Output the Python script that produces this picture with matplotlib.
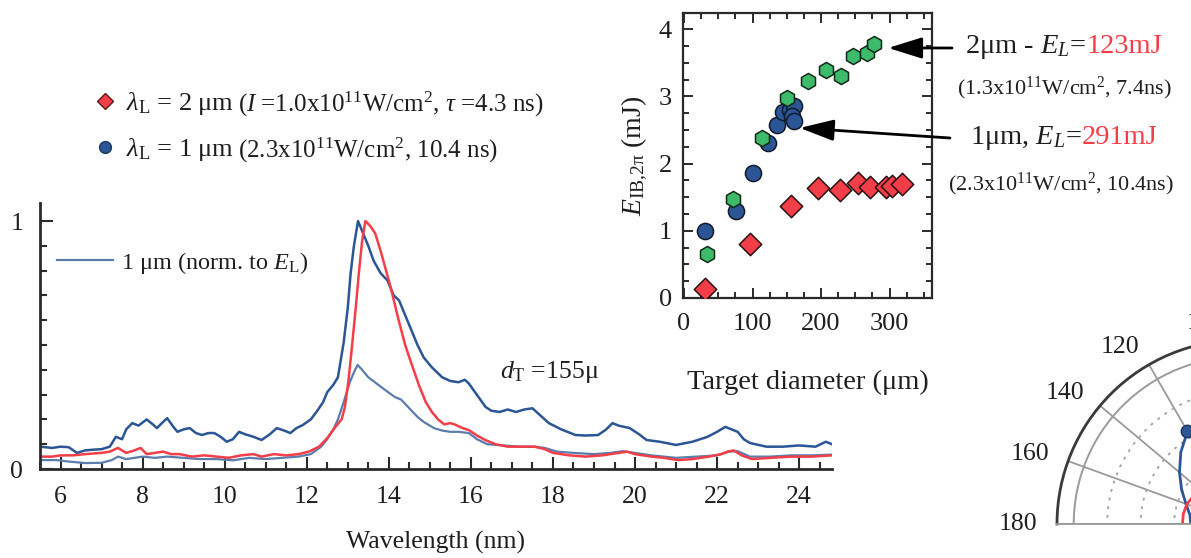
import numpy as np
import matplotlib
matplotlib.use("Agg")
import matplotlib.pyplot as plt
from matplotlib.ticker import MultipleLocator, FixedLocator
from matplotlib.lines import Line2D
from matplotlib.offsetbox import TextArea, HPacker, AnnotationBbox

plt.rcParams['font.family'] = ['Liberation Serif', 'DejaVu Serif']
plt.rcParams['mathtext.fontset'] = 'custom'
plt.rcParams['mathtext.rm'] = 'Liberation Serif'
plt.rcParams['mathtext.it'] = 'Liberation Serif:italic'
plt.rcParams['mathtext.bf'] = 'Liberation Serif:bold'

DARK = '#2b5594'
LIGHT = '#5b7dab'
RED = '#f23e48'
GREEN = '#3dba6a'
INK = '#1e1e1e'

# --- EUV spectra (wavelength nm, normalised intensity) ---
wl_dark = [5.5, 5.8, 6.0, 6.2, 6.4, 6.6, 6.8, 7.0, 7.2, 7.35, 7.5, 7.6, 7.75, 7.9,
           8.1, 8.25, 8.35, 8.5, 8.6, 8.75, 8.85, 9.0, 9.15, 9.3, 9.45, 9.6, 9.75,
           9.9, 10.05, 10.2, 10.35, 10.5, 10.7, 10.9, 11.1, 11.27, 11.45, 11.6,
           11.75, 11.9, 12.1, 12.27, 12.4, 12.5, 12.65, 12.76, 12.9, 13.0, 13.07,
           13.15, 13.25, 13.4, 13.5, 13.63, 13.8, 13.97, 14.12, 14.25, 14.4, 14.55,
           14.7, 14.85, 15.05, 15.3, 15.5, 15.7, 15.85, 15.95, 16.1, 16.36, 16.5,
           16.7, 16.9, 17.1, 17.3, 17.5, 17.7, 17.9, 18.2, 18.55, 18.8, 19.1, 19.3,
           19.45, 19.6, 19.87, 20.1, 20.28, 20.6, 21.0, 21.4, 21.77, 22.0, 22.2,
           22.35, 22.5, 22.65, 22.8, 23.2, 23.6, 24.0, 24.4, 24.65, 24.8]
int_dark = [0.09, 0.085, 0.09, 0.088, 0.065, 0.075, 0.078, 0.08, 0.09, 0.13, 0.12,
            0.16, 0.185, 0.175, 0.2, 0.18, 0.165, 0.19, 0.205, 0.17, 0.15, 0.16,
            0.165, 0.145, 0.137, 0.145, 0.145, 0.13, 0.11, 0.12, 0.15, 0.14, 0.13,
            0.117, 0.14, 0.165, 0.155, 0.145, 0.165, 0.177, 0.2, 0.238, 0.27, 0.31,
            0.34, 0.37, 0.51, 0.65, 0.79, 0.9, 1.0, 0.94, 0.9, 0.84, 0.79, 0.76,
            0.7, 0.68, 0.62, 0.56, 0.5, 0.45, 0.41, 0.37, 0.355, 0.35, 0.36, 0.345,
            0.31, 0.25, 0.235, 0.23, 0.24, 0.23, 0.24, 0.245, 0.215, 0.185, 0.16,
            0.137, 0.135, 0.137, 0.16, 0.185, 0.175, 0.165, 0.14, 0.117, 0.11,
            0.097, 0.11, 0.13, 0.15, 0.17, 0.16, 0.15, 0.12, 0.105, 0.09, 0.09,
            0.095, 0.09, 0.11, 0.1]

wl_red = [5.5, 5.8, 6.0, 6.3, 6.6, 7.0, 7.2, 7.4, 7.6, 7.8, 7.95, 8.1, 8.3, 8.5,
          8.7, 8.9, 9.2, 9.5, 9.8, 10.1, 10.4, 10.7, 10.9, 11.2, 11.5, 11.8, 12.05,
          12.3, 12.5, 12.7, 12.85, 12.93, 13.02, 13.1, 13.2, 13.27, 13.35, 13.43,
          13.55, 13.67, 13.8, 13.9, 14.05, 14.24, 14.4, 14.5, 14.73, 14.9, 15.05,
          15.2, 15.35, 15.5, 15.6, 15.8, 15.95, 16.15, 16.35, 16.6, 16.9, 17.2,
          17.55, 17.8, 18.0, 18.4, 18.8, 19.2, 19.6, 19.8, 20.0, 20.4, 20.7, 21.05,
          21.4, 21.8, 22.1, 22.25, 22.4, 22.6, 22.85, 23.3, 23.8, 24.3, 24.8]
int_red = [0.05, 0.05, 0.055, 0.055, 0.06, 0.065, 0.07, 0.085, 0.065, 0.075, 0.085,
           0.06, 0.065, 0.07, 0.06, 0.06, 0.05, 0.055, 0.05, 0.045, 0.055, 0.06,
           0.05, 0.06, 0.055, 0.06, 0.07, 0.09, 0.125, 0.17, 0.2, 0.25, 0.36, 0.49,
           0.66, 0.79, 0.92, 1.0, 0.98, 0.95, 0.88, 0.82, 0.73, 0.6, 0.5, 0.45,
           0.34, 0.27, 0.23, 0.2, 0.18, 0.185, 0.18, 0.165, 0.157, 0.135, 0.117,
           0.1, 0.09, 0.09, 0.09, 0.08, 0.065, 0.055, 0.05, 0.055, 0.065, 0.07,
           0.06, 0.05, 0.045, 0.036, 0.04, 0.05, 0.06, 0.07, 0.075, 0.055, 0.04,
           0.045, 0.05, 0.05, 0.055]

wl_light = [5.5, 5.9, 6.2, 6.6, 7.0, 7.25, 7.4, 7.6, 7.8, 8.0, 8.3, 8.6, 9.0, 9.4,
            9.8, 10.2, 10.6, 11.0, 11.4, 11.8, 12.1, 12.35, 12.5, 12.65, 12.76,
            12.9, 13.05, 13.15, 13.24, 13.35, 13.5, 13.7, 13.9, 14.15, 14.3, 14.5,
            14.7, 14.85, 15.1, 15.3, 15.5, 15.7, 15.95, 16.15, 16.4, 16.8, 17.2,
            17.55, 17.8, 18.1, 18.5, 19.0, 19.4, 19.7, 20.0, 20.4, 21.0, 21.5, 22.0,
            22.3, 22.5, 22.8, 23.3, 23.8, 24.3, 24.8]
int_light = [0.036, 0.036, 0.03, 0.024, 0.025, 0.036, 0.05, 0.04, 0.045, 0.05,
             0.045, 0.05, 0.045, 0.04, 0.04, 0.035, 0.045, 0.04, 0.045, 0.05, 0.06,
             0.09, 0.12, 0.16, 0.2, 0.27, 0.35, 0.39, 0.42, 0.4, 0.37, 0.345, 0.32,
             0.29, 0.28, 0.245, 0.21, 0.19, 0.165, 0.155, 0.15, 0.15, 0.145, 0.12,
             0.1, 0.095, 0.09, 0.09, 0.085, 0.07, 0.065, 0.06, 0.065, 0.072, 0.065,
             0.055, 0.045, 0.05, 0.055, 0.07, 0.072, 0.05, 0.05, 0.055, 0.055, 0.058]

# --- inset: conversion energy vs target diameter ---
d_1um = [30, 76, 100, 123, 136, 145, 155, 160, 158, 160]
e_1um = [1.0, 1.29, 1.86, 2.31, 2.57, 2.76, 2.80, 2.86, 2.71, 2.64]
d_2um_a = [34, 71, 114, 151, 181, 207, 229, 247, 267, 277]
e_2um_a = [0.66, 1.47, 2.38, 2.98, 3.23, 3.39, 3.30, 3.60, 3.64, 3.78]
d_2um_b = [31, 96, 156, 195, 228, 254, 272, 295, 303, 318]
e_2um_b = [0.14, 0.80, 1.37, 1.63, 1.60, 1.71, 1.65, 1.65, 1.67, 1.69]

# --- angular distribution (deg, normalised) ---
ang_1um = [90, 100, 110, 120, 130, 140, 150, 160, 170, 180]
rad_1um = [0.76, 0.73, 0.69, 0.64, 0.56, 0.48, 0.41, 0.35, 0.31, 0.30]
ang_1um_pts = [120]
rad_1um_pts = [0.64]
ang_2um = [140, 150, 160, 170, 180]
rad_2um = [0.30, 0.33, 0.345, 0.35, 0.35]
polar_ticks = [0, 20, 40, 60, 80, 100, 120, 140, 160, 180]

W, H = 1191, 558
fig = plt.figure(figsize=(W / 100, H / 100), dpi=100)


def box(x0, y0, x1, y1):
    # pixel box measured from the top-left corner -> figure fraction
    return [x0 / W, 1 - y1 / H, (x1 - x0) / W, (y1 - y0) / H]


# ---------------- spectrum ----------------
ax = fig.add_axes(box(40, 203, 832, 469))
ax.plot(wl_light, int_light, color=LIGHT, lw=1.6, label=r'1 μm (norm. to $E_\mathrm{L}$)')
ax.plot(wl_dark, int_dark, color=DARK, lw=1.8)
ax.plot(wl_red, int_red, color=RED, lw=1.8)
ax.set_xlim(5.5, 24.8)
ax.set_ylim(0, 1.073)
for s in ['top', 'right']:
    ax.spines[s].set_visible(False)
for s in ['left', 'bottom']:
    ax.spines[s].set_linewidth(2)
    ax.spines[s].set_color('#2a2a2a')
ax.xaxis.set_major_locator(MultipleLocator(2))
ax.xaxis.set_minor_locator(MultipleLocator(0.5))
ax.yaxis.set_major_locator(FixedLocator([0, 1]))
ax.yaxis.set_minor_locator(MultipleLocator(0.1))
ax.tick_params(which='both', direction='in', color='#2a2a2a', width=1.5,
               labelsize=18.5, labelcolor=INK)
ax.tick_params(which='major', length=9)
ax.tick_params(which='minor', length=5)
ax.tick_params(axis='x', pad=12)
ax.tick_params(axis='y', pad=12)
ax.set_xlabel('Wavelength (nm)', fontsize=18.5, color=INK, labelpad=17)
ax.text(16.72, 0.39, r'$d_\mathrm{T}$ =155μ', fontsize=18.5, color=INK,
        ha='left', va='center')
ax.legend(loc='upper left', bbox_to_anchor=(17 / 792, (469 - 250) / 266),
          frameon=False, fontsize=17.5, handlelength=2.3, handletextpad=0.35,
          borderpad=0, borderaxespad=0, labelcolor=INK)

# legend for laser wavelength (top left)
h_red = Line2D([], [], ls='none', marker='D', ms=8, mfc=RED, mec='#5a1a1a', mew=1)
h_blue = Line2D([], [], ls='none', marker='o', ms=8.5, mfc=DARK, mec='#1d3560', mew=1)
leg = fig.legend([h_red, h_blue],
                 [r'$\lambda_\mathrm{L}$ = 2 μm', r'$\lambda_\mathrm{L}$ = 1 μm'],
                 loc='upper left', bbox_to_anchor=(94 / W, 1 - 90 / H),
                 frameon=False, fontsize=19, handlelength=0.8, handletextpad=0.4,
                 labelspacing=0.72, borderpad=0, borderaxespad=0, labelcolor=INK)
extra = [r'($I$ =1.0x10$^{11}$W/cm$^2$, $\tau$ =4.3 ns)',
         r'(2.3x10$^{11}$W/cm$^2$, 10.4 ns)']
for t, s in zip(leg.get_texts(), extra):
    fig.add_artist(plt.Annotation(s, xy=(1, 0.0), xycoords=t, xytext=(3, -1.5),
                                  textcoords='offset points', fontsize=18,
                                  color=INK, ha='left', va='bottom', zorder=10))

# ---------------- inset ----------------
iax = fig.add_axes(box(683, 13, 932, 298))
iax.scatter(d_2um_b, e_2um_b, s=130, marker='D', c=RED, edgecolors='#2a1010',
            linewidths=1.1, zorder=3)
iax.scatter(d_1um, e_1um, s=135, marker='o', c=DARK, edgecolors='#111a2a',
            linewidths=1.1, zorder=3)
iax.scatter(d_2um_a, e_2um_a, s=135, marker='h', c=GREEN, edgecolors='#112a18',
            linewidths=1.1, zorder=4)
iax.set_xlim(-1.5, 362)
iax.set_ylim(0, 4.24)
for s in iax.spines.values():
    s.set_linewidth(1.6)
    s.set_color('#2a2a2a')
iax.xaxis.set_major_locator(MultipleLocator(100))
iax.xaxis.set_minor_locator(MultipleLocator(25))
iax.yaxis.set_major_locator(MultipleLocator(1))
iax.yaxis.set_minor_locator(MultipleLocator(0.25))
iax.tick_params(which='both', direction='in', top=True, right=True,
                color='#2a2a2a', width=1.4, labelsize=19, labelcolor=INK)
iax.tick_params(which='major', length=7, pad=8)
iax.tick_params(axis='x', which='major', pad=11)
iax.tick_params(which='minor', length=4)
iax.set_xlabel('Target diameter (μm)', fontsize=20.5, color=INK, labelpad=25)
iax.set_ylabel(r'$E_{\mathrm{IB{,}2\pi}}$ (mJ)', fontsize=20, color=INK, labelpad=6)

arrow = dict(arrowstyle='-|>,head_length=0.8,head_width=0.25', color='black',
             lw=2, mutation_scale=26, shrinkA=0, shrinkB=0)
iax.annotate('', xy=(298, 3.72), xytext=(952, H - 48), textcoords='figure pixels',
             arrowprops=arrow, annotation_clip=False)
iax.annotate('', xy=(169, 2.53), xytext=(950, H - 138), textcoords='figure pixels',
             arrowprops=arrow, annotation_clip=False)


def label_line(parts, x, y, size):
    areas = [TextArea(s, textprops=dict(fontsize=size, color=c)) for s, c in parts]
    pack = HPacker(children=areas, align='baseline', pad=0, sep=0)
    fig.add_artist(AnnotationBbox(pack, (x, H - y), xycoords='figure pixels',
                                  box_alignment=(0, 0.5), frameon=False, pad=0))


label_line([(r'2μm - $E_L$=', INK), ('123mJ', RED)], 965, 47, 20.5)
label_line([(r'(1.3x10$^{11}$W/cm$^2$, 7.4ns)', INK)], 957, 88, 16)
label_line([(r'1μm, $E_L$=', INK), ('291mJ', RED)], 970, 138, 20.5)
label_line([(r'(2.3x10$^{11}$W/cm$^2$, 10.4ns)', INK)], 948, 184, 16)

# ---------------- angular distribution (cut at the right edge) ----------------
pax = fig.add_axes(box(1057, 248, 1425, 616), projection='polar')
pax.set_thetamin(0)
pax.set_thetamax(180)
pax.plot(np.radians(ang_1um), rad_1um, color=DARK, lw=2)
pax.plot(np.radians(ang_2um), rad_2um, color=RED, lw=2)
pax.plot(np.radians(ang_1um_pts), rad_1um_pts, ls='none', marker='o', ms=9,
         mfc=DARK, mec='#1d3560')
pax.set_ylim(0, 1.1)
pax.set_thetagrids(polar_ticks, labels=[''] * len(polar_ticks))
pax.xaxis.set_minor_locator(FixedLocator(np.radians(np.arange(10, 180, 20))))
for t in polar_ticks:
    ha = 'right' if t > 100 else ('left' if t < 80 else 'center')
    pax.text(np.radians(t), 1.22, str(t), ha=ha, va='center', fontsize=18.5,
             color=INK, clip_on=False)
pax.set_rticks([0.2, 0.4, 0.6, 0.8])
pax.set_yticklabels([])
pax.xaxis.grid(True, color='#9a9a9a', lw=1.3, ls='-')
pax.yaxis.grid(True, color='#a8a8a8', lw=1.4, ls=(0, (1.5, 3)))
pax.axhline(1.0, color='#9a9a9a', lw=1.4)
pax.spines['polar'].set_color('#3a3a3a')
pax.spines['polar'].set_linewidth(2)
for s in ['start', 'end']:
    pax.spines[s].set_color('#9a9a9a')
    pax.spines[s].set_linewidth(1.3)
pax.tick_params(axis='x', which='both', direction='in', color='#3a3a3a', width=1.5)
pax.tick_params(axis='x', which='major', length=9)
pax.tick_params(axis='x', which='minor', length=5)

fig.savefig('out.png', dpi=100)
